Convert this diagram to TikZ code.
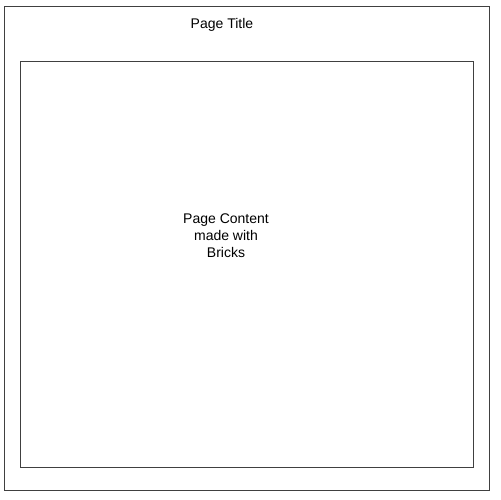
\documentclass[tikz,border=0pt]{standalone}
\usepackage{fontspec}
\setmainfont{Liberation Sans}
\begin{document}
\begin{tikzpicture}[x=1pt,y=-1pt,
  frame/.style={draw=black!75,line width=1.2pt},
  lbl/.style={font=\fontsize{14}{17}\selectfont,align=center,inner sep=0pt}]
\useasboundingbox (0,0) rectangle (501,500);
\fill[white] (0,0) rectangle (501,500);
\node[frame,minimum width=485,minimum height=484,anchor=north west,inner sep=0pt] (page) at (4,6) {};
\node[frame,minimum width=453,minimum height=406,anchor=north west,inner sep=0pt] (content) at (20,61) {};
\node[lbl] (title) at (222,25) {Page Title};
\node[lbl] (text) at (226,236) {Page Content\\made with\\Bricks};
\end{tikzpicture}
\end{document}
